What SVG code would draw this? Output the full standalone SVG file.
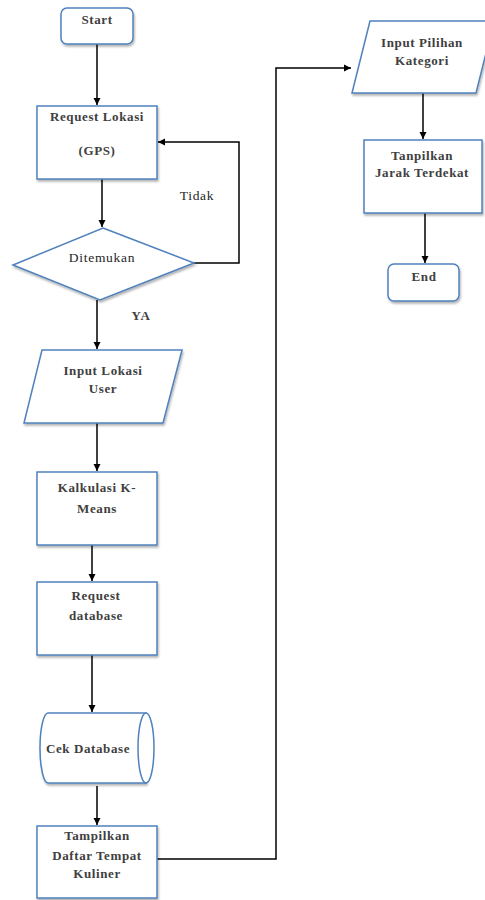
<svg xmlns="http://www.w3.org/2000/svg" width="485" height="900" viewBox="0 0 485 900">
<style>
.shape{fill:#fff;stroke:#4f81bd;stroke-width:1.5;filter:url(#sh)}
.lbl{font-family:"Liberation Serif","Times New Roman",serif;font-size:13px;font-weight:bold;letter-spacing:0.6px;fill:#404040;text-anchor:middle}
.lt{font-weight:normal;font-size:13.5px;letter-spacing:0.7px;fill:#262626}
.edge{fill:none;stroke:#000;stroke-width:1.5}
</style>
<defs>
<filter id="sh" x="-10%" y="-10%" width="130%" height="130%">
<feDropShadow dx="1" dy="2" stdDeviation="1.3" flood-color="#000" flood-opacity="0.3"/>
</filter>
<marker id="ah" markerWidth="8" markerHeight="8" refX="7" refY="4" orient="auto" markerUnits="userSpaceOnUse">
<path d="M0,0.5 L7,4 L0,7.5 Z" fill="#000"/>
</marker>
</defs>
<rect width="485" height="900" fill="#fff"/>
<g id="connectors">
<path class="edge" d="M97,44 V105" marker-end="url(#ah)"/>
<path class="edge" d="M102,179 V227" marker-end="url(#ah)"/>
<path class="edge" d="M194,263 H239 V142 H158" marker-end="url(#ah)"/>
<path class="edge" d="M97,300 V349" marker-end="url(#ah)"/>
<path class="edge" d="M97,423 V471" marker-end="url(#ah)"/>
<path class="edge" d="M92,545 V581" marker-end="url(#ah)"/>
<path class="edge" d="M92,655 V712" marker-end="url(#ah)"/>
<path class="edge" d="M97,786 V825" marker-end="url(#ah)"/>
<path class="edge" d="M157,859 H276 V68 H351" marker-end="url(#ah)"/>
<path class="edge" d="M423,93 V139" marker-end="url(#ah)"/>
<path class="edge" d="M425,213 V263" marker-end="url(#ah)"/>
</g>
<g id="start">
<rect class="shape" x="61" y="8" width="72" height="36" rx="6"/>
<text class="lbl" x="97" y="24">Start</text>
</g>
<g id="request-lokasi">
<rect class="shape" x="37" y="106" width="120" height="73"/>
<text class="lbl" x="97" y="121">Request Lokasi</text>
<text class="lbl" x="97" y="155">(GPS)</text>
</g>
<g id="ditemukan">
<polygon class="shape" points="103,228 194,263 100,300 13,265"/>
<text class="lbl lt" x="102" y="262">Ditemukan</text>
</g>
<g id="labels">
<text class="lbl lt" x="197" y="200">Tidak</text>
<text class="lbl" x="141" y="320">YA</text>
</g>
<g id="input-lokasi">
<polygon class="shape" points="42,350 182,350 163,423 24,423"/>
<text class="lbl" x="103" y="375">Input Lokasi</text>
<text class="lbl" x="103" y="393">User</text>
</g>
<g id="kalkulasi">
<rect class="shape" x="37" y="472" width="120" height="73"/>
<text class="lbl" x="97" y="492">Kalkulasi K-</text>
<text class="lbl" x="97" y="513">Means</text>
</g>
<g id="request-database">
<rect class="shape" x="37" y="582" width="120" height="73"/>
<text class="lbl" x="96" y="600">Request</text>
<text class="lbl" x="96" y="620">database</text>
</g>
<g id="cek-database">
<path class="shape" d="M146,713 H48 A8,35 0 0 0 48,783 H146 Z"/>
<ellipse cx="146" cy="748" rx="8" ry="35" fill="#fff" stroke="#4f81bd" stroke-width="1.5"/>
<text class="lbl" x="88" y="753">Cek Database</text>
</g>
<g id="tampilkan-daftar">
<rect class="shape" x="37" y="826" width="120" height="72"/>
<text class="lbl" x="97" y="840">Tampilkan</text>
<text class="lbl" x="97" y="860">Daftar Tempat</text>
<text class="lbl" x="97" y="878">Kuliner</text>
</g>
<g id="input-pilihan">
<polygon class="shape" points="370,21 494,21 476,93 352,93"/>
<text class="lbl" x="422" y="47">Input Pilihan</text>
<text class="lbl" x="422" y="65">Kategori</text>
</g>
<g id="tampilkan-jarak">
<rect class="shape" x="364" y="140" width="118" height="73"/>
<text class="lbl" x="422" y="160">Tanpilkan</text>
<text class="lbl" x="422" y="177">Jarak Terdekat</text>
</g>
<g id="end">
<rect class="shape" x="388" y="264" width="71" height="37" rx="6"/>
<text class="lbl" x="424" y="281">End</text>
</g>
</svg>
